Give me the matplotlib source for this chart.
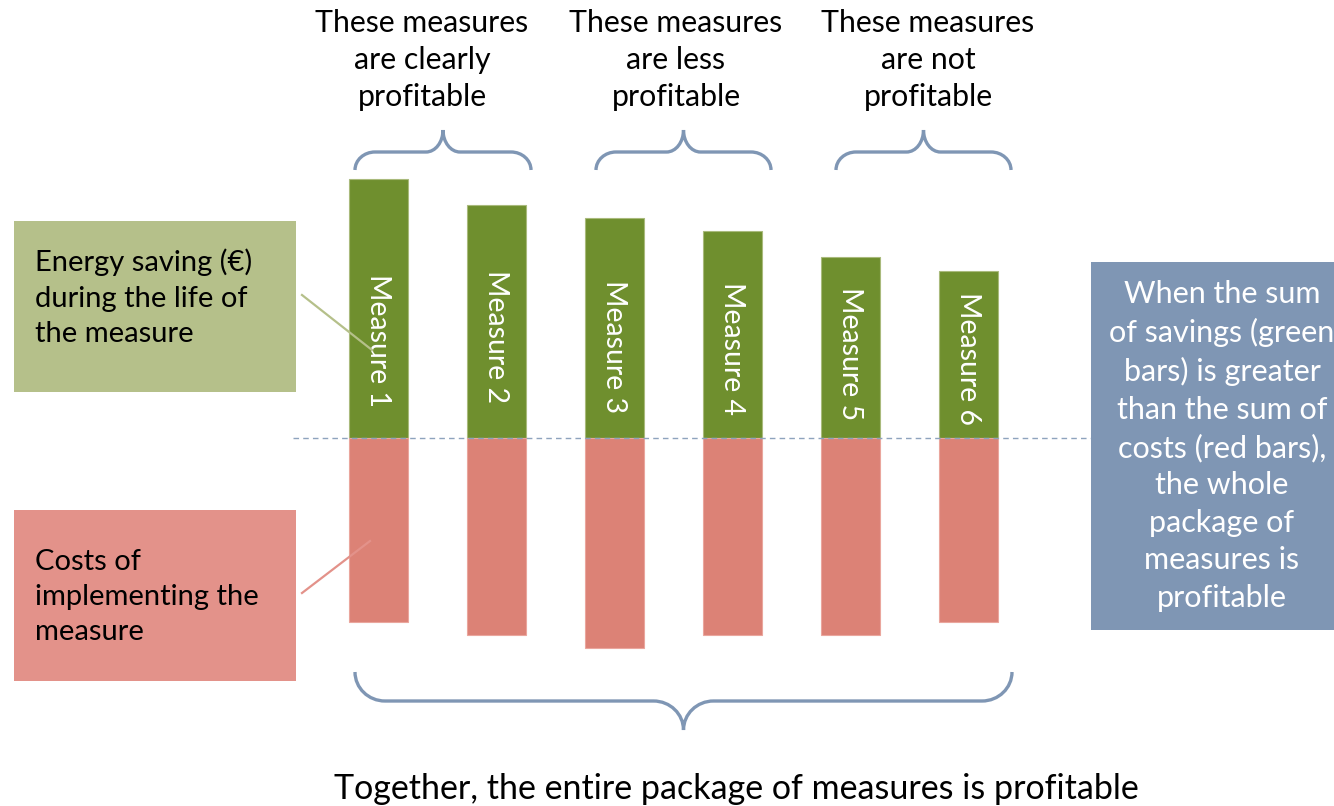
import numpy as np
import matplotlib
matplotlib.use("Agg")
import matplotlib.pyplot as plt
from matplotlib.patches import Rectangle, PathPatch
from matplotlib.path import Path
import matplotlib.transforms as mtransforms

plt.rcParams['font.family'] = ['Lato', 'DejaVu Sans']

# data (bar heights above / below the zero line)
measures = ["Measure 1", "Measure 2", "Measure 3", "Measure 4", "Measure 5", "Measure 6"]
savings = [259, 233, 220, 207, 181, 167]
costs = [184, 197, 210, 197, 197, 184]
label_pos = [97, 101, 91, 90, 84, 79]

groups = ["These measures\nare clearly\nprofitable",
          "These measures\nare less\nprofitable",
          "These measures\nare not\nprofitable"]

GREEN = "#6f8f2e"
RED = "#dc8276"
GREEN_BOX = "#b5c08a"
RED_BOX = "#e3928a"
BLUE = "#7f96b4"

W, H = 1334, 806
fig = plt.figure(figsize=(W / 100, H / 100), dpi=100)
ax = fig.add_axes([0, 0, 1, 1])
ax.set_xlim(0, W)
ax.set_ylim(-368, 438)
ax.axis("off")

# pixel coords (origin top-left) for the annotations
px = mtransforms.Affine2D().scale(1 / W, -1 / H).translate(0, 1) + fig.transFigure

x = 378.5 + 118 * np.arange(len(measures))
ax.bar(x, savings, width=59, color=GREEN, edgecolor="#a9ba7c", linewidth=0.8, zorder=2)
ax.bar(x, [-c for c in costs], width=59, color=RED, edgecolor="#eaa69d", linewidth=0.8, zorder=2)
for xi, name, ly in zip(x, measures, label_pos):
    ax.text(xi, ly, name, rotation=-90, color="white", fontsize=20.5,
            ha="center", va="center", zorder=3)

# dashed zero line
ax.plot([293, 1091], [0, 0], color="#8ea3bd", lw=1, ls=(0, (4, 3)), zorder=4)


def brace(x0, x1, y_end, y_h, y_t, rh, mh):
    k = 0.5523
    rv = y_end - y_h
    t = y_t - y_h
    xc = (x0 + x1) / 2
    verts = [(x0, y_end),
             (x0, y_end - k * rv), (x0 + rh - k * rh, y_h), (x0 + rh, y_h),
             (xc - mh, y_h),
             (xc - mh + k * mh, y_h), (xc, y_t - k * t), (xc, y_t),
             (xc, y_t - k * t), (xc + mh - k * mh, y_h), (xc + mh, y_h),
             (x1 - rh, y_h),
             (x1 - rh + k * rh, y_h), (x1, y_end - k * rv), (x1, y_end)]
    codes = [Path.MOVETO] + [Path.CURVE4] * 3 + [Path.LINETO] + [Path.CURVE4] * 6 + \
            [Path.LINETO] + [Path.CURVE4] * 3
    fig.patches.append(PathPatch(Path(verts, codes), transform=px, fill=False,
                                 edgecolor=BLUE, lw=2.4, capstyle="butt"))


brace(355, 531, 170, 152, 130, 20, 17)
brace(596, 771, 170, 152, 130, 20, 17)
brace(836, 1011, 170, 152, 130, 20, 17)
brace(355, 1012, 672, 701, 730, 30, 30)

for cx, g in zip([422, 676, 928], groups):
    fig.text(cx, 60, g, transform=px, ha="center", va="center", fontsize=21.8,
             linespacing=1.41, color="black")

fig.text(736, 789, "Together, the entire package of measures is profitable", transform=px,
         ha="center", va="center", fontsize=24.5, color="black")

# side boxes
fig.patches.append(Rectangle((14, 221), 282, 171, transform=px, facecolor=GREEN_BOX,
                             edgecolor="none"))
fig.text(35, 298, "Energy saving (€)\nduring the life of\nthe measure", transform=px,
         ha="left", va="center", fontsize=21, linespacing=1.45, color="black")
fig.patches.append(Rectangle((14, 510), 282, 171, transform=px, facecolor=RED_BOX,
                             edgecolor="none"))
fig.text(35, 597, "Costs of\nimplementing the\nmeasure", transform=px,
         ha="left", va="center", fontsize=21, linespacing=1.45, color="black")

ax.plot([302, 372], [438 - 295, 438 - 350], color=GREEN_BOX, lw=1.6, zorder=5)
ax.plot([302, 370], [438 - 593, 438 - 541], color=RED_BOX, lw=1.6, zorder=5)

fig.patches.append(Rectangle((1091, 262), 250, 368, transform=px, facecolor=BLUE,
                             edgecolor="none"))
fig.text(1222, 446, "When the sum\nof savings (green\nbars) is greater\nthan the sum of\n"
         "costs (red bars),\nthe whole\npackage of\nmeasures is\nprofitable",
         transform=px, ha="center", va="center", fontsize=22, linespacing=1.41,
         color="white")

fig.savefig("out.png", dpi=100)
